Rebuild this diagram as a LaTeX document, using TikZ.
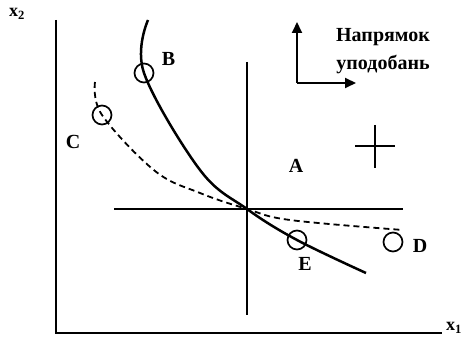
\documentclass[tikz,border=0pt]{standalone}
\usepackage{fontspec}
\setmainfont{Liberation Serif}
\usetikzlibrary{arrows.meta,positioning,calc}

\begin{document}
\begin{tikzpicture}[x=1pt,y=-1pt,
    axis/.style={line width=2pt},
    thinline/.style={line width=1.5pt},
    curve/.style={line width=2.5pt},
    ring/.style={circle,draw,line width=1.7pt,minimum size=19pt,inner sep=0pt},
    lbl/.style={font=\fontsize{20}{24}\selectfont\bfseries},
    dir/.style={line width=1.9pt,-{Triangle[length=11pt,width=10pt]}}]
\useasboundingbox (0,0) rectangle (468,339);
% axes
\coordinate (ytop) at (56,20);
\coordinate (orig) at (56,333);
\coordinate (xend) at (442,333);
\draw[axis] (ytop) -- (orig) -- (xend);
\node[lbl,font=\fontsize{18}{20}\selectfont\bfseries] (xtwo) at (17,14) {x\textsubscript{2}};
\node[lbl,font=\fontsize{18}{20}\selectfont\bfseries,anchor=west,inner sep=0pt] (xone) at (446,328) {x\textsubscript{1}};
% cross through the point
\coordinate (p) at (247,209);
\coordinate (vtop) at (247,62);
\coordinate (vbot) at (247,315);
\coordinate (hleft) at (114,209);
\coordinate (hright) at (403,209);
\draw[thinline] (vtop) -- (vbot);
\draw[thinline] (hleft) -- (hright);
% bundles
\node[ring] (b) at (144,73) {};
\node[ring] (e) at (297,240) {};
\node[ring] (c) at (102,115) {};
\node[ring] (d) at (393,242) {};
\coordinate (s0) at (148,20);
\coordinate (s1) at (366,273);
\coordinate (t0) at (95,82);
\coordinate (t1) at (403,230);
\draw[curve] plot[smooth,tension=0.6] coordinates
    {(s0) (b.center) (200,170) (p) (e.center) (s1)};
\draw[curve,line width=1.8pt,dash pattern=on 6pt off 4pt] plot[smooth,tension=0.6] coordinates
    {(t0) (c.center) (155,171) (200,193) (p) (290,220) (t1)};
\node[lbl,right=4pt of b,yshift=14pt] (blbl) {B};
\node[lbl] (clbl) at (73,142) {C};
\node[lbl,right=6pt of d,yshift=-4pt] (dlbl) {D};
\node[lbl,below=4pt of e,xshift=8pt] (elbl) {E};
\node[lbl] (albl) at (296,166) {A};
% better set
\coordinate (plus) at (375,146);
\draw[thinline] ($(plus)+(-20,0)$) -- ($(plus)+(20,0)$);
\draw[thinline] ($(plus)+(0,-21)$) -- ($(plus)+(0,22)$);
% direction of preferences
\coordinate (corner) at (297,83);
\coordinate (up) at (297,22);
\coordinate (rt) at (356,83);
\draw[dir] (corner) -- (up);
\draw[dir] (corner) -- (rt);
\node[lbl,align=center,font=\fontsize{20}{28}\selectfont\bfseries] (pref) at (383,51) {Напрямок\\уподобань};
\end{tikzpicture}
\end{document}
